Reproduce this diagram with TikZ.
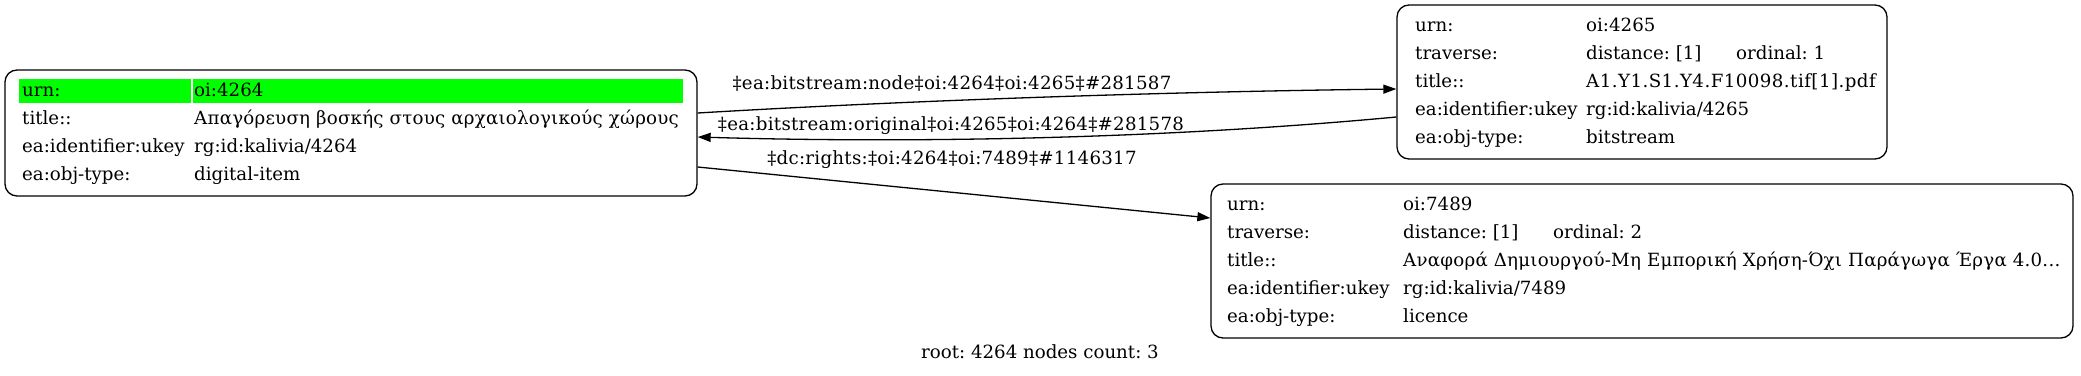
\documentclass[tikz,border=0pt]{standalone}
\usepackage{fontspec}
\setmainfont[Kerning=Off]{DejaVu Serif}
\usetikzlibrary{arrows.meta}
\definecolor{limegreen}{HTML}{00FF00}
\frenchspacing
\tikzset{
  recbox/.style={draw=black, line width=1.3pt, rounded corners=12pt, inner sep=0pt},
  cell/.style={fill=limegreen, draw=none, inner sep=0pt},
  txt/.style={anchor=base west, inner sep=0pt, font=\fontsize{18.2}{22}\selectfont},
  elabel/.style={anchor=base, inner sep=0pt, font=\fontsize{18.2}{22}\selectfont\addfontfeature{LetterSpace=1.5}},
  edge/.style={line width=1.3pt, -{Triangle[length=13pt,width=9pt]}},
}
\begin{document}
\begin{tikzpicture}[x=1pt,y=-1pt]
\useasboundingbox (0,0) rectangle (2081,375);
% boxes
\node[recbox, minimum width=692pt, minimum height=126pt] (n4264) at (351,133) {};
\node[recbox, minimum width=490pt, minimum height=154pt] (n4265) at (1642,82) {};
\node[recbox, minimum width=862pt, minimum height=154pt] (n7489) at (1642,261) {};
% green cells
\node[cell, minimum width=172pt, minimum height=24pt] (g1) at (105,91) {};
\node[cell, minimum width=490pt, minimum height=24pt] (g2) at (438,91) {};
% node 4264
\node[txt] (a1) at (22,96.5) {urn:};
\node[txt] (a2) at (194,96.5) {oi:4264};
\node[txt] (a3) at (22,124.5) {title::};
\node[txt] (a4) at (194,124.5) {\addfontfeature{LetterSpace=1.3}Απαγόρευση βοσκής στους αρχαιολογικούς χώρους};
\node[txt] (a5) at (22,152.5) {ea:identifier:ukey};
\node[txt] (a6) at (194,152.5) {rg:id:kalivia/4264};
\node[txt] (a7) at (22,180.5) {ea:obj-type:};
\node[txt] (a8) at (194,180.5) {digital-item};
% node 4265
\node[txt] (b1) at (1415,31.5) {urn:};
\node[txt] (b2) at (1586,31.5) {oi:4265};
\node[txt] (b3) at (1415,59.5) {traverse:};
\node[txt] (b4) at (1586,59.5) {distance: [1]};
\node[txt] (b4o) at (1736,59.5) {ordinal: 1};
\node[txt] (b5) at (1415,87.5) {title::};
\node[txt] (b6) at (1586,87.5) {\addfontfeature{LetterSpace=2.5}A1.Y1.S1.Y4.F10098.tif[1].pdf};
\node[txt] (b7) at (1415,115.5) {ea:identifier:ukey};
\node[txt] (b8) at (1586,115.5) {rg:id:kalivia/4265};
\node[txt] (b9) at (1415,143.5) {ea:obj-type:};
\node[txt] (b10) at (1586,143.5) {bitstream};
% node 7489
\node[txt] (c1) at (1227,210.5) {urn:};
\node[txt] (c2) at (1403,210.5) {oi:7489};
\node[txt] (c3) at (1227,238.5) {traverse:};
\node[txt] (c4) at (1403,238.5) {distance: [1]};
\node[txt] (c4o) at (1553,238.5) {ordinal: 2};
\node[txt] (c5) at (1227,266.5) {title::};
\node[txt] (c6) at (1403,266.5) {\addfontfeature{LetterSpace=1.3}Αναφορά Δημιουργού-Μη Εμπορική Χρήση-Όχι Παράγωγα Έργα 4.0...};
\node[txt] (c7) at (1227,294.5) {ea:identifier:ukey};
\node[txt] (c8) at (1403,294.5) {rg:id:kalivia/7489};
\node[txt] (c9) at (1227,322.5) {ea:obj-type:};
\node[txt] (c10) at (1403,322.5) {licence};
% edges
\draw[edge] ([yshift=20pt]n4264.east) .. controls (900,101) and (1150,92) .. ([yshift=-7pt]n4265.west);
\draw[edge] ([yshift=-35pt]n4265.west) .. controls (1150,140) and (900,143) .. ([yshift=-4pt]n4264.east);
\draw[edge] ([yshift=-34pt]n4264.east) -- ([yshift=43pt]n7489.west);
% edge labels
\node[elabel] (l1) at (952,89.5) {‡ea:bitstream:node‡oi:4264‡oi:4265‡\#281587};
\node[elabel] (l2) at (951,130.5) {‡ea:bitstream:original‡oi:4265‡oi:4264‡\#281578};
\node[elabel] (l3) at (952,164.5) {‡dc:rights:‡oi:4264‡oi:7489‡\#1146317};
% root label
\node[anchor=base, inner sep=0pt, font=\fontsize{18.2}{22}\selectfont] (root) at (1040,358.5) {root: 4264 nodes count: 3};
\end{tikzpicture}
\end{document}
